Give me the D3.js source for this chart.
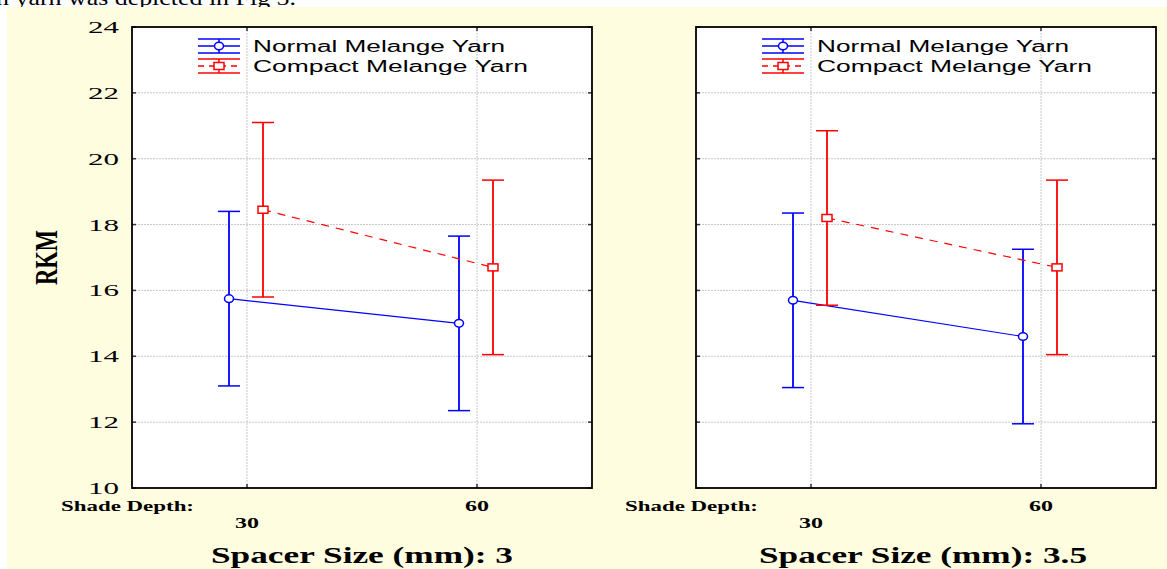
<!DOCTYPE html>
<html>
<head>
<meta charset="utf-8">
<script src="https://cdn.jsdelivr.net/npm/d3@7"></script>
<style>
  body { margin: 0; background: #fff; }
  svg { display: block; }
</style>
</head>
<body>
<div id="chart"></div>
<script>
// data
const shadeDepths = ["30", "60"];
const spacerSizes = ["3", "3.5"];
const seriesNames = ["Normal Melange Yarn", "Compact Melange Yarn"];
// means per panel, per shade depth
const normalMeans = [[15.75, 15.0], [15.7, 14.6]];
const normalLow = [[13.1, 12.35], [13.05, 11.95]];
const normalHigh = [[18.4, 17.65], [18.35, 17.25]];
const compactMeans = [[18.45, 16.7], [18.2, 16.7]];
const compactLow = [[15.8, 14.05], [15.55, 14.05]];
const compactHigh = [[21.1, 19.35], [20.85, 19.35]];
const yTicks = [10, 12, 14, 16, 18, 20, 22, 24];

const fullWidth = 1167;
const fullHeight = 569;
const serif = "'Liberation Serif', 'Times New Roman', serif";
const sans = "'Liberation Sans', Arial, sans-serif";

const svg = d3
  .select("#chart")
  .append("svg")
  .attr("width", fullWidth)
  .attr("height", fullHeight);

// cropped line of body text above the figure
svg
  .append("text")
  .attr("x", -4)
  .attr("y", 5)
  .attr("font-family", serif)
  .attr("font-size", 21)
  .attr("textLength", 300)
  .attr("lengthAdjust", "spacingAndGlyphs")
  .text("n yarn was depicted in Fig 5.");

svg
  .append("rect")
  .attr("x", 7)
  .attr("y", 7)
  .attr("width", fullWidth - 7)
  .attr("height", fullHeight - 7)
  .attr("fill", "#fffde0");

const plotTop = 27;
const plotBottom = 488;
const y = d3.scaleLinear().domain([10, 24]).range([plotBottom, plotTop]);

const panels = [
  { left: 132, right: 592 },
  { left: 696, right: 1156 }
];

const blue = "#0000ff";
const red = "#ff0000";

const series = [
  { name: seriesNames[0], means: normalMeans, low: normalLow, high: normalHigh, color: blue, dash: null, shift: -18, symbol: "circle" },
  { name: seriesNames[1], means: compactMeans, low: compactLow, high: compactHigh, color: red, dash: "8,7", shift: 16, symbol: "square" }
];

const drawSymbol = (g, kind, cx, cy, color) => {
  if (kind === "circle") {
    g.append("ellipse")
      .attr("cx", cx).attr("cy", cy)
      .attr("rx", 4.5).attr("ry", 3.8)
      .attr("fill", "#fff").attr("stroke", color).attr("stroke-width", 1.5);
  } else {
    g.append("rect")
      .attr("x", cx - 5).attr("y", cy - 3.5)
      .attr("width", 10).attr("height", 7)
      .attr("fill", "#fff").attr("stroke", color).attr("stroke-width", 1.5);
  }
};

panels.forEach((p, pi) => {
  const x = d3.scalePoint().domain(shadeDepths).range([p.left, p.right]).padding(0.5);
  const g = svg.append("g");

  g.append("rect")
    .attr("x", p.left).attr("y", plotTop)
    .attr("width", p.right - p.left).attr("height", plotBottom - plotTop)
    .attr("fill", "#fff");

  // grid
  g.selectAll(".hgrid")
    .data(yTicks.filter(t => t > 10 && t < 24))
    .enter()
    .append("line")
    .attr("x1", p.left).attr("x2", p.right)
    .attr("y1", d => y(d)).attr("y2", d => y(d))
    .attr("stroke", "#c8c8c8").attr("stroke-dasharray", "2,1");
  g.selectAll(".vgrid")
    .data(shadeDepths)
    .enter()
    .append("line")
    .attr("x1", d => x(d)).attr("x2", d => x(d))
    .attr("y1", plotTop).attr("y2", plotBottom)
    .attr("stroke", "#c8c8c8").attr("stroke-dasharray", "2,1");

  // inward ticks
  g.selectAll(".ltick")
    .data(yTicks)
    .enter()
    .append("line")
    .attr("x1", p.left).attr("x2", p.left + 4)
    .attr("y1", d => y(d)).attr("y2", d => y(d))
    .attr("stroke", "#333").attr("stroke-width", 1.5);
  g.selectAll(".rtick")
    .data(yTicks)
    .enter()
    .append("line")
    .attr("x1", p.right - 4).attr("x2", p.right)
    .attr("y1", d => y(d)).attr("y2", d => y(d))
    .attr("stroke", "#333").attr("stroke-width", 1.5);
  g.selectAll(".ttick")
    .data(shadeDepths)
    .enter()
    .append("line")
    .attr("x1", d => x(d)).attr("x2", d => x(d))
    .attr("y1", plotTop).attr("y2", plotTop + 4)
    .attr("stroke", "#333").attr("stroke-width", 1.5);
  g.selectAll(".btick")
    .data(shadeDepths)
    .enter()
    .append("line")
    .attr("x1", d => x(d)).attr("x2", d => x(d))
    .attr("y1", plotBottom - 4).attr("y2", plotBottom)
    .attr("stroke", "#333").attr("stroke-width", 1.5);

  // series
  series.forEach(s => {
    const pts = shadeDepths.map((d, i) => ({
      cx: x(d) + s.shift,
      m: s.means[pi][i],
      lo: s.low[pi][i],
      hi: s.high[pi][i]
    }));
    g.append("path")
      .datum(pts)
      .attr("d", d3.line().x(d => d.cx).y(d => y(d.m)))
      .attr("fill", "none")
      .attr("stroke", s.color)
      .attr("stroke-width", 1.2)
      .attr("stroke-dasharray", s.dash);
    pts.forEach(d => {
      g.append("line")
        .attr("x1", d.cx).attr("x2", d.cx)
        .attr("y1", y(d.lo)).attr("y2", y(d.hi))
        .attr("stroke", s.color).attr("stroke-width", 1.8);
      [d.lo, d.hi].forEach(v => {
        g.append("line")
          .attr("x1", d.cx - 11).attr("x2", d.cx + 11)
          .attr("y1", y(v)).attr("y2", y(v))
          .attr("stroke", s.color).attr("stroke-width", 1.5);
      });
      drawSymbol(g, s.symbol, d.cx, y(d.m), s.color);
    });
  });

  // legend
  const lx = p.left + 87;
  series.forEach((s, si) => {
    const cy = 46 + si * 20;
    const lg = g.append("g");
    [cy - 7, cy + 7].forEach(yy => {
      lg.append("line")
        .attr("x1", lx - 21).attr("x2", lx + 21)
        .attr("y1", yy).attr("y2", yy)
        .attr("stroke", s.color).attr("stroke-width", 1.5);
    });
    lg.append("line")
      .attr("x1", lx).attr("x2", lx)
      .attr("y1", cy - 7).attr("y2", cy + 7)
      .attr("stroke", s.color).attr("stroke-width", 1.5);
    lg.append("line")
      .attr("x1", lx - 21).attr("x2", lx + 21)
      .attr("y1", cy).attr("y2", cy)
      .attr("stroke", s.color).attr("stroke-width", 1.5)
      .attr("stroke-dasharray", s.dash ? "6,5" : null);
    drawSymbol(lg, s.symbol, lx, cy, s.color);
    lg.append("text")
      .attr("x", lx + 34)
      .attr("y", cy + 6)
      .attr("font-family", sans)
      .attr("font-size", 16)
      .attr("textLength", si === 0 ? 252 : 275)
      .attr("lengthAdjust", "spacingAndGlyphs")
      .text(s.name);
  });

  // frame
  g.append("rect")
    .attr("x", p.left).attr("y", plotTop)
    .attr("width", p.right - p.left).attr("height", plotBottom - plotTop)
    .attr("fill", "none").attr("stroke", "#000").attr("stroke-width", 1.8);

  // x labels
  g.append("text")
    .attr("x", p.left - 71)
    .attr("y", 511)
    .attr("font-family", serif)
    .attr("font-weight", "bold")
    .attr("font-size", 14)
    .attr("textLength", 133)
    .attr("lengthAdjust", "spacingAndGlyphs")
    .text("Shade Depth:");
  shadeDepths.forEach((d, i) => {
    g.append("text")
      .attr("x", x(d) - 12)
      .attr("y", i === 0 ? 528 : 511)
      .attr("font-family", serif)
      .attr("font-weight", "bold")
      .attr("font-size", 14)
      .attr("textLength", 24)
      .attr("lengthAdjust", "spacingAndGlyphs")
      .text(d);
  });
  const title = "Spacer Size (mm): " + spacerSizes[pi];
  g.append("text")
    .attr("x", (p.left + p.right) / 2 - (pi === 0 ? 151 : 167))
    .attr("y", 563)
    .attr("font-family", serif)
    .attr("font-weight", "bold")
    .attr("font-size", 23)
    .attr("textLength", pi === 0 ? 302 : 328)
    .attr("lengthAdjust", "spacingAndGlyphs")
    .text(title);
});

// y tick labels (left panel only)
svg.append("g")
  .selectAll("text")
  .data(yTicks)
  .enter()
  .append("text")
  .attr("x", 88)
  .attr("y", d => y(d) + 6)
  .attr("font-family", serif)
  .attr("font-size", 17)
  .attr("textLength", 31)
  .attr("lengthAdjust", "spacingAndGlyphs")
  .text(d => d);

svg.append("text")
  .attr("transform", `translate(57, ${(plotTop + plotBottom) / 2}) rotate(-90)`)
  .attr("text-anchor", "middle")
  .attr("font-family", serif)
  .attr("font-weight", "bold")
  .attr("font-size", 31)
  .attr("textLength", 55)
  .attr("lengthAdjust", "spacingAndGlyphs")
  .text("RKM");
</script>
</body>
</html>
